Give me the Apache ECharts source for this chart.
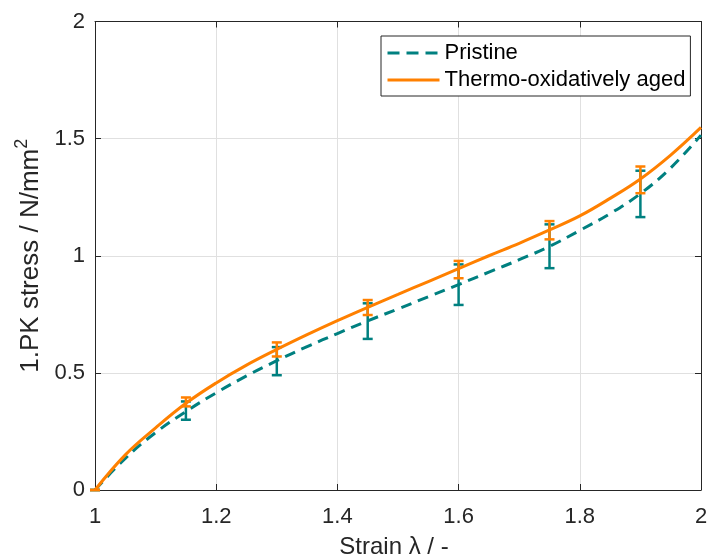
<!DOCTYPE html>
<html>
<head>
<meta charset="utf-8">
<script src="https://cdn.jsdelivr.net/npm/echarts@6/dist/echarts.min.js"></script>
<style>html,body{margin:0;padding:0;background:#fff}#c{width:708px;height:560px}</style>
</head>
<body>
<div id="c"></div>
<script>
// Curve samples (strain, stress)
var strain = [1.00,1.05,1.10,1.15,1.20,1.25,1.30,1.35,1.40,1.45,1.50,1.55,1.60,1.65,1.70,1.75,1.80,1.85,1.90,1.95,2.00];
var pristine = [0,0.135,0.245,0.335,0.415,0.487,0.552,0.612,0.668,0.722,0.773,0.825,0.877,0.930,0.983,1.040,1.108,1.180,1.265,1.375,1.515];
var aged = [0,0.150,0.265,0.370,0.457,0.533,0.600,0.663,0.723,0.780,0.835,0.890,0.945,1.000,1.053,1.110,1.170,1.245,1.328,1.430,1.548];
// Error bar data
var errStrain = [1.00,1.15,1.30,1.45,1.60,1.75,1.90];
var pristineLow = [0,0.300,0.490,0.645,0.790,0.947,1.165];
var pristineHigh = [0,0.378,0.610,0.797,0.963,1.134,1.363];
var agedLow = [0,0.357,0.570,0.747,0.904,1.070,1.267];
var agedHigh = [0,0.395,0.630,0.811,0.978,1.148,1.381];
var xTicks = [1,1.2,1.4,1.6,1.8,2];
var yTicks = [0,0.5,1,1.5,2];

var TEAL = '#008080', ORANGE = '#ff8000', AX = '#262626';
var FONT = '"Liberation Sans", Arial, Helvetica, sans-serif';

function pairs(xs, ys){ return xs.map(function(x,i){ return [x, ys[i]]; }); }
function errData(lo, hi){ return errStrain.map(function(x,i){ return [x, lo[i], hi[i]]; }); }
function errRender(color){
  return function(params, api){
    var x = api.value(0);
    var p1 = api.coord([x, api.value(1)]);
    var p2 = api.coord([x, api.value(2)]);
    var hw = 5;
    var st = {stroke: color, lineWidth: 2.5, fill: null};
    return {type:'group', children:[
      {type:'line', shape:{x1:p1[0],y1:p1[1],x2:p2[0],y2:p2[1]}, style:st},
      {type:'line', shape:{x1:p1[0]-hw,y1:p1[1],x2:p1[0]+hw,y2:p1[1]}, style:st},
      {type:'line', shape:{x1:p2[0]-hw,y1:p2[1],x2:p2[0]+hw,y2:p2[1]}, style:st}
    ]};
  };
}

var axisCommon = {
  axisLine:{show:true, onZero:false, lineStyle:{color:AX, width:1}},
  axisTick:{show:true, inside:true, length:6, lineStyle:{color:AX}},
};

var chart = echarts.init(document.getElementById('c'), null, {renderer:'canvas'});
chart.setOption({
  animation:false,
  backgroundColor:'#fff',
  textStyle:{fontFamily:FONT},
  grid:{left:95, right:7, top:21.5, bottom:70, containLabel:false, outerBoundsMode:'none'},
  legend:{
    left:381, top:36, orient:'vertical',
    itemWidth:52, itemHeight:14, itemGap:5,
    padding:[6,5,5,5],
    borderColor:AX, borderWidth:1, backgroundColor:'#fff',
    itemStyle:{opacity:0},
    textStyle:{fontSize:22, color:'#000', fontFamily:FONT},
    data:[{name:'Pristine', lineStyle:{type:[12,7], width:3}},
          {name:'Thermo-oxidatively aged', lineStyle:{width:3}}]
  },
  xAxis:[
    Object.assign({type:'value', min:1, max:2, interval:0.2, position:'bottom',
      name:'Strain λ / -', nameLocation:'middle', nameGap:45,
      nameTextStyle:{fontSize:24, color:AX, fontFamily:FONT, padding:[0,8,0,0]},
      axisLabel:{fontSize:22, color:AX, margin:16, fontFamily:FONT},
      splitLine:{show:true, lineStyle:{color:'#e0e0e0', width:1}}}, axisCommon),
    Object.assign({type:'value', min:1, max:2, interval:0.2, position:'top',
      axisLabel:{show:false}, splitLine:{show:false}}, axisCommon)
  ],
  yAxis:[
    Object.assign({type:'value', min:0, max:2, interval:0.5, position:'left',
      name:'{a|1.PK stress / N/mm}{s|2}', nameLocation:'middle', nameGap:47,
      nameTextStyle:{fontSize:26, color:AX, fontFamily:FONT,
        rich:{a:{fontSize:26, color:AX, fontFamily:FONT},
              s:{fontSize:18, color:AX, fontFamily:FONT, padding:[0,0,17,0]}}},
      axisLabel:{fontSize:22, color:AX, margin:10, fontFamily:FONT},
      splitLine:{show:true, lineStyle:{color:'#e0e0e0', width:1}}}, axisCommon),
    Object.assign({type:'value', min:0, max:2, interval:0.5, position:'right',
      axisLabel:{show:false}, splitLine:{show:false}}, axisCommon)
  ],
  series:[
    {name:'Pristine', type:'line', data:pairs(strain, pristine), smooth:0.4,
      symbol:'none', lineStyle:{color:TEAL, width:3, type:[11,7]}, itemStyle:{color:TEAL}, z:3},
    {name:'PristineErr', type:'custom', data:errData(pristineLow, pristineHigh),
      renderItem:errRender(TEAL), z:4, silent:true, clip:false},
    {name:'Thermo-oxidatively aged', type:'line', data:pairs(strain, aged), smooth:0.4,
      symbol:'none', lineStyle:{color:ORANGE, width:3}, itemStyle:{color:ORANGE}, z:5},
    {name:'AgedErr', type:'custom', data:errData(agedLow, agedHigh),
      renderItem:errRender(ORANGE), z:6, silent:true, clip:false}
  ]
});
</script>
</body>
</html>
